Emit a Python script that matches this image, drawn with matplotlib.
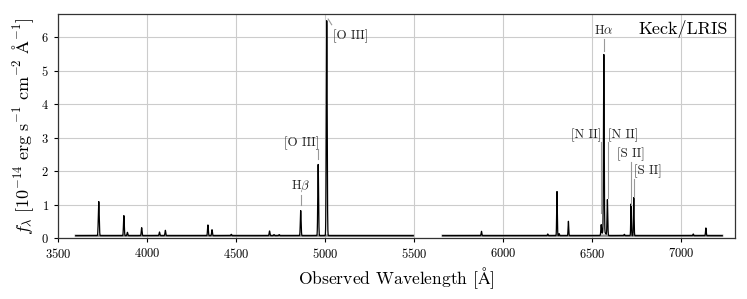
import numpy as np
import matplotlib
matplotlib.use("Agg")
import matplotlib.pyplot as plt

plt.rcParams['font.family'] = 'cmr10'
plt.rcParams['mathtext.fontset'] = 'cm'
plt.rcParams['axes.formatter.use_mathtext'] = True

# ---- data ----
seg_start = [3600, 5660]
seg_end = [5495, 7230]
continuum = 0.07

line_wave = [3729, 3870, 3890, 3970, 4070, 4103, 4342, 4365, 4473, 4688, 4713, 4742,
             4863, 4961, 5009, 5878, 6250, 6302, 6314, 6366, 6550, 6565, 6565, 6585,
             6680, 6718, 6733, 7067, 7138]
line_peak = [1.02, 0.60, 0.10, 0.24, 0.11, 0.16, 0.32, 0.18, 0.04, 0.14, 0.03, 0.03,
             0.75, 2.13, 6.43, 0.13, 0.05, 1.32, 0.06, 0.43, 0.30, 5.30, 0.12, 1.07,
             0.04, 0.95, 1.14, 0.05, 0.23]
line_sigma = [2.5, 2.2, 2.2, 2.2, 2.2, 2.2, 2.2, 2.2, 2.2, 2.2, 2.2, 2.2,
              2.2, 2.2, 2.4, 2.0, 2.0, 1.8, 1.8, 1.8, 2.0, 2.0, 9.0, 2.0,
              2.0, 1.8, 1.8, 2.0, 2.0]

x_ticks = [3500, 4000, 4500, 5000, 5500, 6000, 6500, 7000]
y_ticks = [0, 1, 2, 3, 4, 5, 6]

# annotations: label, text x, text y, ha, leader (x0, y0, x1, y1)
ann_text = [r'H$\beta$', '[O III]', '[O III]', r'H$\alpha$', '[N II]', '[N II]', '[S II]', '[S II]']
ann_x = [4863, 4966, 5042, 6565, 6548, 6590, 6718, 6733]
ann_y = [1.55, 2.85, 6.05, 6.20, 3.08, 3.08, 2.52, 2.00]
ann_ha = ['center', 'right', 'left', 'center', 'right', 'left', 'center', 'left']
lead_x0 = [4863, 4961, 5017, 6565, 6550, 6586, 6717, 6732]
lead_x1 = [4863, 4961, 5037, 6565, 6550, 6586, 6717, 6732]
lead_y0 = [1.00, 2.35, 6.55, 5.60, 0.75, 1.20, 1.00, 1.22]
lead_y1 = [1.30, 2.65, 6.38, 5.95, 2.88, 2.86, 2.28, 1.77]

fig = plt.figure(figsize=(7.47, 2.99), dpi=100)
ax = fig.add_axes([0.0776, 0.204, 0.906, 0.749])

for s, e in zip(seg_start, seg_end):
    wl = np.arange(s, e, 0.5)
    flux = np.full_like(wl, continuum, dtype=float)
    for c, p, sg in zip(line_wave, line_peak, line_sigma):
        flux += p * np.exp(-0.5 * ((wl - c) / sg) ** 2)
    ax.plot(wl, np.full_like(wl, continuum, dtype=float), color='#888888', lw=1.6, zorder=2)
    ax.plot(wl, flux, color='black', lw=0.9, zorder=3)

for t, tx, ty, ha, x0, x1, y0, y1 in zip(ann_text, ann_x, ann_y, ann_ha,
                                          lead_x0, lead_x1, lead_y0, lead_y1):
    ax.plot([x0, x1], [y0, y1], color='#999999', lw=0.8, zorder=4)
    ax.text(tx, ty, t, ha=ha, va='center', fontsize=9.3, color='#222222', zorder=5)

ax.text(0.99, 0.935, 'Keck/LRIS', transform=ax.transAxes, ha='right', va='center',
        fontsize=13)

ax.set_xlim(3500, 7300)
ax.set_ylim(0, 6.7)
ax.set_xticks(x_ticks)
ax.set_yticks(y_ticks)
ax.grid(True, color='#cccccc', lw=0.8, zorder=0)
ax.set_axisbelow(True)
ax.tick_params(labelsize=9, direction='out', length=3, width=0.8)
for sp in ax.spines.values():
    sp.set_color('#333333')
    sp.set_linewidth(0.9)

ax.set_xlabel(r'Observed Wavelength [$\mathrm{\AA}$]', fontsize=12.6, labelpad=3)
ax.set_ylabel(r'$f_\lambda\ [10^{-14}\ \mathrm{erg\ s^{-1}\ cm^{-2}\ \AA^{-1}}]$', fontsize=13,
              labelpad=4)

fig.savefig('out.png', dpi=100)
